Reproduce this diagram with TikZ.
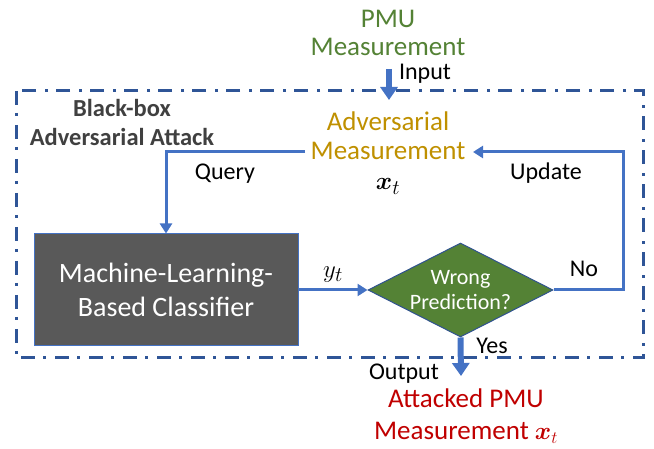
\documentclass[tikz,border=0pt]{standalone}
\usepackage{fontspec}
\setmainfont{Carlito}
\usepackage{bm}
\usetikzlibrary{arrows.meta,shapes.geometric,calc}
\definecolor{lineblue}{HTML}{4472C4}
\definecolor{frameblue}{HTML}{2F5597}
\definecolor{pmugreen}{HTML}{548235}
\definecolor{advgold}{HTML}{BF9000}
\definecolor{attred}{HTML}{C00000}
\definecolor{bbgray}{HTML}{404040}
\definecolor{clfgray}{HTML}{595959}
\definecolor{decborder}{HTML}{2F528F}
\begin{document}
\begin{tikzpicture}[x=1pt,y=-1pt,
  lbl/.style={inner sep=0pt, font=\fontsize{24}{29}\selectfont, anchor=base},
  flow/.style={draw=lineblue, line width=3pt, -{Triangle[length=10pt,width=12pt]}},
  io/.style={draw=lineblue, line width=6pt, -{Triangle[length=13pt,width=17pt]}},
  frame/.style={draw=frameblue, line width=3pt, dash pattern=on 14pt off 8pt on 3pt off 9pt}
]
\useasboundingbox (0,0) rectangle (654,449);
% frame
\draw[frame] (16,91) rectangle (643,358);
% texts
\node[inner sep=0pt, text=pmugreen, align=center, font=\fontsize{27}{28}\selectfont] (pmu) at (388,33) {PMU\\Measurement};
\node[inner sep=0pt, text=bbgray, align=center, font=\bfseries\fontsize{24.5}{29}\selectfont] (bb) at (122,122) {Black-box\\Adversarial Attack};
\node[inner sep=0pt, text=advgold, align=center, font=\fontsize{27}{29}\selectfont] (adv) at (388,136) {Adversarial\\Measurement};
\node[inner sep=0pt, anchor=base, font=\fontsize{28}{30}\selectfont] (xt) at (388,190) {$\bm{x}_t$};
\node[lbl] (input) at (425,80) {Input};
\node[lbl] (query) at (225,180) {Query};
\node[lbl] (update) at (546,180) {Update};
\node[lbl] (no) at (584,277) {No};
\node[lbl] (yes) at (492,353) {Yes};
\node[lbl] (output) at (404,380) {Output};
\node[inner sep=0pt, text=attred, align=center, font=\fontsize{27}{32}\selectfont] (att) at (466,416) {Attacked PMU\\Measurement $\bm{x}_t$};
% classifier and decision
\node[draw=lineblue, line width=1pt, fill=clfgray, text=white, minimum width=264pt, minimum height=112pt, inner sep=0pt, align=center, font=\fontsize{28}{34}\selectfont] (clf) at (166,290) {Machine-Learning-\\Based Classifier};
\node[diamond, aspect=2, draw=decborder, line width=1pt, fill=pmugreen, text=white, minimum width=185pt, minimum height=94pt, inner sep=0pt, align=center, font=\fontsize{22}{25}\selectfont] (dec) at (460.5,290) {Wrong\\Prediction?};
% coordinates
\coordinate (inS) at (389,69);
\coordinate (inE) at (389,100);
\coordinate (qs) at (305,152);
\coordinate (us) at (473,152);
\coordinate (ucorner) at (623,152);
\coordinate (outE) at (461,376);
% connectors
\draw[io] (inS) -- (inE);
\draw[flow] (qs) -| (clf.north);
\draw[flow] (clf.east) -- (dec.west) node[midway, above=6pt, inner sep=0pt, font=\fontsize{28}{30}\selectfont] (yt) {$y_t$};
\draw[flow] (dec.east) -| (ucorner) -- (us);
\draw[io] (dec.south) -- (outE);
\end{tikzpicture}
\end{document}
